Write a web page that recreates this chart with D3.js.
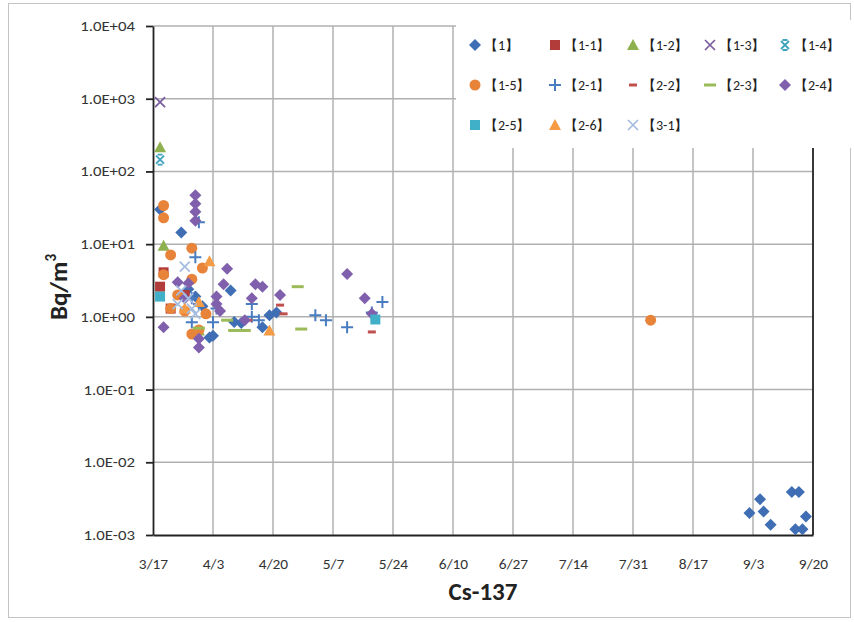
<!DOCTYPE html>
<html>
<head>
<meta charset="utf-8">
<script src="https://cdn.jsdelivr.net/npm/d3@7"></script>
<style>
  body { margin: 0; background: #fff; }
  text { font-family: Carlito, Lato, "Liberation Sans", sans-serif; }
</style>
</head>
<body>
<svg id="chart" width="854" height="622"></svg>
<script>
// sampling date (2011), value in Bq/m3
let s1 = [["3/19",30],["3/25",14.5],["3/27",2.4],["3/29",1.9],["3/31",1.4],["4/2",0.52],["4/3",0.55],["4/8",2.3],
  ["4/9",0.85],["4/11",0.82],["4/17",0.72],["4/19",1.05],["4/21",1.15],
  ["9/2",0.002],["9/5",0.0031],["9/6",0.0021],["9/8",0.00138],["9/14",0.0039],["9/16",0.0039],
  ["9/15",0.0012],["9/17",0.0012],["9/18",0.0018]]
let s1_1 = [["3/19",2.6],["3/20",4.1],["3/22",1.3],["3/26",2.0]]
let s1_2 = [["3/19",215],["3/20",9.5],["3/30",0.65]]
let s1_3 = [["3/19",900]]
let s1_4 = [["3/19",145]]
let s1_5 = [["3/20",34],["3/20",23],["3/20",3.8],["3/22",7.1],["3/28",8.8],["3/28",3.3],["3/31",4.7],
  ["3/24",2.0],["3/22",1.3],["3/26",1.2],["3/28",0.58],["3/30",0.66],["4/1",1.1],["8/5",0.9]]
let s2_1 = [["3/30",20],["3/29",6.6],["3/28",1.8],["3/30",1.5],["3/28",0.84],["4/3",0.84],["4/4",1.3],
  ["4/14",1.0],["4/14",1.5],["4/16",0.9],["5/2",1.05],["5/5",0.9],["5/11",0.72],["5/18",1.15],["5/21",1.6]]
let s2_2 = [["4/13",0.9],["4/22",1.45],["4/23",1.1],["5/18",0.62]]
let s2_3 = [["3/30",0.7],["4/7",0.9],["4/9",0.65],["4/12",0.65],["4/27",2.6],["4/28",0.68]]
let s2_4 = [["3/29",47],["3/29",36],["3/29",28],["3/29",21],["3/24",3.0],["3/27",2.9],["3/20",0.72],
  ["3/30",0.5],["3/30",0.38],["4/7",4.6],["4/6",2.8],["4/15",2.8],["4/14",1.8],["4/4",1.9],["4/4",1.5],
  ["4/12",0.9],["4/17",2.6],["4/22",2.0],["5/11",3.9],["5/16",1.8],["5/18",1.1],["3/26",1.8],["4/5",1.2]]
let s2_5 = [["3/19",1.9],["5/19",0.92]]
let s2_6 = [["4/2",5.8],["3/30",1.6],["4/19",0.65],["3/26",1.3]]
let s3_1 = [["3/26",4.9],["3/25",2.3],["3/27",1.8],["3/24",1.5],["3/28",1.3],["3/29",1.1]]

let seriesNames = ["【1】","【1-1】","【1-2】","【1-3】","【1-4】","【1-5】","【2-1】","【2-2】","【2-3】","【2-4】","【2-5】","【2-6】","【3-1】"]
let seriesData = [s1, s1_1, s1_2, s1_3, s1_4, s1_5, s2_1, s2_2, s2_3, s2_4, s2_5, s2_6, s3_1]
let seriesShape = ["diamond","square","triangle","x","star","circle","plus","dash","longdash","diamond","square","triangle","x"]
let seriesColor = ["#3F6EB4","#B23C3A","#8FB04F","#7A5C9E","#3FA3BD","#E8843A","#4A7CC0","#C0504D","#9BBB59","#8060AC","#3FB0C8","#F59A45","#A4BCDF"]

let xTicks = ["3/17","4/3","4/20","5/7","5/24","6/10","6/27","7/14","7/31","8/17","9/3","9/20"]
let yTicks = [1e-3, 1e-2, 1e-1, 1, 10, 100, 1000, 10000]

let parseDay = d3.timeParse("%m/%d/%Y")
let day = s => parseDay(s + "/2011")

let margin = { top: 26, right: 41, bottom: 87, left: 153 }
let width = 854 - margin.left - margin.right
let height = 622 - margin.top - margin.bottom

let svg = d3.select('#chart')

// outer frame
svg.append('rect')
    .attr('x', 8.5).attr('y', 3.5).attr('width', 842).attr('height', 614)
    .attr('fill', 'none').attr('stroke', '#c4c4c4')

let chart = svg.append('g')
    .attr('transform', 'translate(' + margin.left + ',' + margin.top + ')')

let x = d3.scaleTime().domain([day("3/17"), day("9/20")]).range([0, width])
let y = d3.scaleLog().domain([1e-3, 1e4]).range([height, 0])

let fmtE = v => {
  let e = Math.round(Math.log10(v))
  return "1.0E" + (e < 0 ? "-" : "+") + String(Math.abs(e)).padStart(2, "0")
}

// grid
chart.append('g').selectAll('line.gx')
    .data(xTicks.slice(1, -1))
    .enter().append('line')
    .attr('x1', d => x(day(d))).attr('x2', d => x(day(d)))
    .attr('y1', 0).attr('y2', height)
    .attr('stroke', '#b0b0b0').attr('stroke-width', 1.5)

chart.append('g').selectAll('line.gy')
    .data(yTicks.slice(1))
    .enter().append('line')
    .attr('x1', 0).attr('x2', width)
    .attr('y1', d => y(d)).attr('y2', d => y(d))
    .attr('stroke', '#b0b0b0').attr('stroke-width', 1.5)

// axes
let yAxis = chart.append('g').attr('class', 'axis y')
    .call(d3.axisLeft(y).tickValues(yTicks).tickFormat(fmtE).tickSize(7).tickSizeOuter(0))
yAxis.select('.domain').attr('stroke', '#222').attr('stroke-width', 1.8)
yAxis.selectAll('.tick line').attr('stroke', '#222').attr('stroke-width', 1.8)
yAxis.selectAll('.tick text').attr('font-size', 14).attr('fill', '#333')
    .attr('x', -18 / 1.2).attr('transform', 'scale(1.2,1)')
    .attr('font-family', 'Carlito, Lato, "Liberation Sans", sans-serif')

let xAxis = chart.append('g').attr('class', 'axis x')
    .attr('transform', 'translate(0,' + height + ')')
    .call(d3.axisBottom(x).tickValues(xTicks.map(day)).tickFormat(d3.timeFormat("%-m/%-d")).tickSize(0).tickSizeOuter(0))
xAxis.select('.domain').attr('stroke', '#222').attr('stroke-width', 1.8)
xAxis.selectAll('.tick text').attr('font-size', 14).attr('fill', '#333')
    .attr('y', 0).attr('dy', 0).attr('transform', 'translate(0,34) scale(1.1,1)')
    .attr('font-family', 'Carlito, Lato, "Liberation Sans", sans-serif')

// right border
chart.append('line')
    .attr('x1', width).attr('x2', width).attr('y1', 122).attr('y2', height)
    .attr('stroke', '#222').attr('stroke-width', 1.8)

// axis titles
chart.append('text')
    .attr('transform', 'translate(' + (-86) + ',' + 261 + ') rotate(-90)')
    .attr('text-anchor', 'middle')
    .attr('font-size', 25).attr('font-weight', 'bold').attr('fill', '#222')
    .html('Bq/m<tspan font-size="15" dy="-11">3</tspan>')

chart.append('text')
    .attr('x', width / 2).attr('y', height + 65)
    .attr('text-anchor', 'middle')
    .attr('font-size', 25).attr('font-weight', 'bold').attr('fill', '#222')
    .text('Cs-137')

// marker shapes
function drawMark(g, shape, color) {
  if (shape === 'diamond') g.append('path').attr('d', 'M0,-6L6,0L0,6L-6,0Z').attr('fill', color)
  else if (shape === 'square') g.append('rect').attr('x', -5).attr('y', -5).attr('width', 10).attr('height', 10).attr('fill', color)
  else if (shape === 'triangle') g.append('path').attr('d', 'M0,-6L6,5L-6,5Z').attr('fill', color)
  else if (shape === 'circle') g.append('circle').attr('r', 5.5).attr('fill', color)
  else if (shape === 'x') g.append('path').attr('d', 'M-5,-5L5,5M-5,5L5,-5').attr('stroke', color).attr('stroke-width', 1.7).attr('fill', 'none')
  else if (shape === 'star') g.append('path').attr('d', 'M-4,-4L4,4M-4,4L4,-4M-2.5,-5L2.5,-5M-2.5,5L2.5,5').attr('stroke', color).attr('stroke-width', 1.8).attr('fill', 'none')
  else if (shape === 'plus') g.append('path').attr('d', 'M-6,0L6,0M0,-6L0,6').attr('stroke', color).attr('stroke-width', 2).attr('fill', 'none')
  else if (shape === 'dash') g.append('rect').attr('x', -4).attr('y', -1.5).attr('width', 8).attr('height', 3).attr('fill', color)
  else if (shape === 'longdash') g.append('rect').attr('x', -6).attr('y', -1.5).attr('width', 12).attr('height', 3).attr('fill', color)
}

seriesData.forEach((data, i) => {
  chart.append('g').selectAll('g')
    .data(data)
    .enter().append('g')
    .attr('transform', d => 'translate(' + x(day(d[0])) + ',' + y(d[1]) + ')')
    .each(function () { drawMark(d3.select(this), seriesShape[i], seriesColor[i]) })
})

// legend
let legend = svg.append('g').attr('transform', 'translate(456,20)')
legend.append('rect').attr('x', 0).attr('y', 0).attr('width', 398).attr('height', 128).attr('fill', '#fff')

let legendCols = [19, 99, 177, 254, 329]
let legendRows = [25, 65, 105]
seriesNames.forEach((name, i) => {
  let g = legend.append('g')
    .attr('transform', 'translate(' + legendCols[i % 5] + ',' + legendRows[Math.floor(i / 5)] + ')')
  drawMark(g, seriesShape[i], seriesColor[i])
  g.append('text')
    .attr('x', 9).attr('y', 5)
    .attr('font-size', 14).attr('fill', '#222')
    .attr('font-family', '"Noto Sans CJK JP", Lato, sans-serif')
    .text(name)
})
</script>
</body>
</html>
